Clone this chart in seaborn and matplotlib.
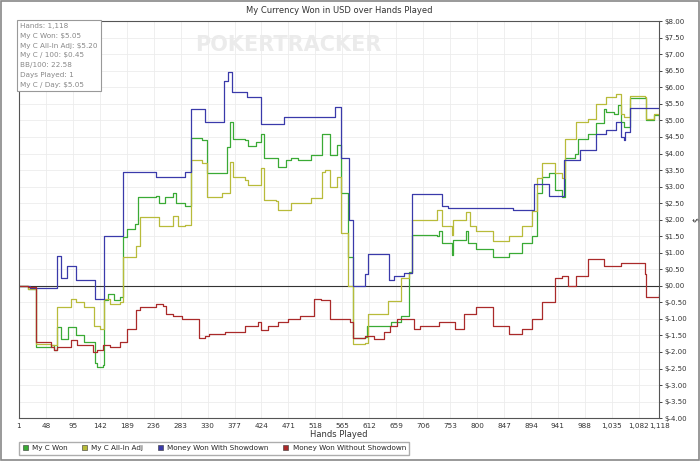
import matplotlib
matplotlib.use("Agg")
import matplotlib.pyplot as plt
import seaborn as sns
import pandas as pd
from matplotlib.patches import Rectangle

sns.set_style("white")
plt.rcParams['font.family'] = ['DejaVu Sans']

won_hands = [1, 17, 31, 57, 63, 67, 74, 86, 100, 114, 129, 133, 137, 148, 150, 157, 166, 177, 182, 189, 203, 209, 240, 246, 255, 269, 275, 291, 301, 321, 329, 355, 364, 369, 375, 395, 401, 415, 424, 429, 447, 452, 467, 475, 487, 510, 521, 530,
             535, 544, 555, 562, 575, 584, 604, 608, 647, 650, 667, 681, 687, 730, 733, 738, 756, 758, 781, 784, 799, 827, 856, 879, 896, 905, 913, 925, 936, 948, 953, 970, 976, 993, 1008, 1022, 1025, 1039, 1045, 1051, 1056, 1067, 1093, 1095, 1108, 1118]
won_vals = [0.0, -0.1, -1.85, -1.8, -1.95, -1.23, -1.6, -1.25, -1.5, -1.7, -1.7, -2.33, -2.45, -2.4, -0.42, -0.25, -0.42, -0.35, 1.48, 1.73, 1.87, 2.7, 2.73, 2.5, 2.7, 2.8, 2.5, 2.42, 4.47, 4.4, 3.4, 3.4, 4.2, 4.95, 4.45, 4.4, 4.23, 4.35, 4.6, 3.87, 3.85, 3.6, 3.8, 3.85, 3.8, 3.95, 3.97, 4.6,
            4.6, 3.95, 4.25, 2.8, 0.88, -1.57, -1.55, -1.2, -1.2, -1.1, -0.9, 0.42, 1.55, 1.5, 1.65, 1.3, 0.94, 1.4, 1.65, 1.3, 1.12, 0.88, 1.0, 1.3, 1.5, 2.8, 3.3, 3.4, 2.9, 2.7, 3.85, 4.0, 4.43, 4.6, 4.92, 5.35, 5.25, 5.2, 5.47, 4.95, 4.8, 5.67, 5.67, 5.0, 5.15, 5.05]

adj_hands = [1, 17, 31, 57, 67, 92, 100, 114, 132, 143, 150, 160, 177, 182, 206, 212, 240, 246, 269, 278, 291, 301, 321, 329, 355, 369, 375, 395, 401, 424, 429, 449, 452, 475, 510, 530,
             535, 544, 555, 562, 575, 584, 604, 610, 644, 667, 681, 687, 730, 738, 756, 758, 781, 787, 799, 827, 856, 879, 896, 905, 913, 936, 948, 953, 973, 993, 1008, 1025, 1042, 1051, 1056, 1067, 1093, 1095, 1108, 1118]
adj_vals = [0.0, -0.1, -1.75, -1.8, -0.63, -0.4, -0.5, -0.63, -1.2, -1.3, -0.4, -0.55, -0.5, 0.88, 1.2, 2.08, 2.08, 1.8, 2.1, 1.8, 1.85, 3.8, 3.7, 2.7, 2.8, 3.75, 3.28, 3.2, 3.06, 3.55, 2.6, 2.55, 2.3, 2.5, 2.65, 3.45,
            3.5, 3.0, 3.3, 1.6, 0.0, -1.75, -1.73, -0.85, -0.45, 0.25, 0.4, 2.0, 2.3, 1.8, 1.55, 2.0, 2.24, 1.8, 1.65, 1.35, 1.5, 1.8, 2.25, 3.25, 3.7, 3.4, 3.26, 4.45, 4.95, 5.05, 5.5, 5.7, 5.8, 5.2, 5.1, 5.75, 5.7, 5.05, 5.2, 5.15]

sd_hands = [1, 20, 67, 74, 85, 100, 133, 150, 182, 240, 291, 301, 326, 358, 365, 373, 398, 424, 464, 553, 562, 576, 584, 604, 609, 647, 656, 672, 687, 739, 750, 862, 899, 925, 951, 979, 1008, 1025, 1042, 1051, 1057, 1058, 1067, 1118]
sd_vals = [0.0, -0.06, 0.9, 0.25, 0.6, 0.18, -0.4, 1.5, 3.45, 3.3, 3.45, 5.35, 4.95, 6.2, 6.45, 5.85, 5.7, 4.9, 5.1, 5.4, 3.85, 2.0, 0.0, 0.35, 0.97, 0.18, 0.3, 0.4, 2.78, 2.4, 2.35, 2.3, 3.08, 2.72, 3.8, 4.1, 4.6, 4.7, 4.95, 4.5, 4.4, 4.65, 5.38, 5.38]

nsd_hands = [1, 17, 31, 57, 63, 67, 91, 103, 131, 137, 148, 160, 177, 189, 206, 212, 240, 252, 258, 269, 286, 315, 326, 332, 361, 395, 418, 424, 435, 452, 470, 492, 515, 527, 544, 578, 584, 604, 621, 638, 649, 660, 690, 700, 733, 761, 778, 799, 827, 856, 879, 896, 913, 936, 948, 959, 973, 993, 1022, 1051, 1093, 1095, 1118]
nsd_vals = [0.0, -0.05, -1.7, -1.85, -1.95, -1.85, -1.65, -1.8, -2.0, -1.95, -1.8, -1.85, -1.7, -1.3, -0.72, -0.65, -0.55, -0.62, -0.85, -0.9, -1.0, -1.57, -1.52, -1.45, -1.4, -1.2, -1.1, -1.35, -1.2, -1.1, -1.0, -0.9, -0.4, -0.42, -1.0, -1.1, -1.57, -1.52, -1.6, -1.4, -1.2, -1.0, -1.3, -1.2, -1.1, -1.3, -0.85, -0.65, -1.2, -1.45, -1.3, -1.0, -0.5, 0.24, 0.3, 0.0, 0.3, 0.8, 0.6, 0.7, 0.35, -0.35, -0.25]

series = [("My C Won", won_hands, won_vals, "#3aaa35"),
          ("My C All-In Adj", adj_hands, adj_vals, "#b8bb3a"),
          ("Money Won With Showdown", sd_hands, sd_vals, "#3a3aaa"),
          ("Money Won Without Showdown", nsd_hands, nsd_vals, "#aa2a2a")]

x_ticks = [1, 48, 95, 142, 189, 236, 283, 330, 377, 424, 471, 518, 565, 612, 659, 706, 753, 800, 847, 894, 941, 988, 1035, 1082, 1118]
y_ticks = [v / 2 for v in range(-8, 17)]
stats = ["Hands: 1,118", "My C Won: $5.05", "My C All-In Adj: $5.20", "My C / 100: $0.45",
         "BB/100: 22.58", "Days Played: 1", "My C / Day: $5.05"]

fig = plt.figure(figsize=(7, 4.61), dpi=100)
fig.patch.set_facecolor("white")
fig.patches.append(Rectangle((0.002, 0.002), 0.996, 0.996, transform=fig.transFigure,
                             fill=False, edgecolor="#888888", lw=1.2))
ax = fig.add_axes([0.027, 0.093, 0.915, 0.861])

for name, h, v, c in series:
    df = pd.DataFrame({"hand": h, "val": v})
    sns.lineplot(data=df, x="hand", y="val", ax=ax, color=c, lw=0.9,
                 drawstyle="steps-post", label=name, legend=False)

ax.axhline(0, color="#333333", lw=0.8, zorder=1)
ax.set_xlim(1, 1118)
ax.set_ylim(-4, 8)
ax.set_xticks(x_ticks)
ax.set_xticklabels([f"{t:,}" for t in x_ticks], fontsize=5.2, color="#333333")
ax.set_yticks(y_ticks)
ax.yaxis.tick_right()
ax.yaxis.set_label_position("right")
ax.set_yticklabels([f"${t:.2f}" for t in y_ticks], fontsize=5.0, color="#333333")
ax.tick_params(axis="both", length=2, pad=1.5, direction="out", width=0.6)
ax.grid(True, color="#ececec", lw=0.6)
ax.set_axisbelow(True)
ax.set_xlabel("Hands Played", fontsize=6, labelpad=1, color="#333333")
ax.set_ylabel("$", fontsize=5.5, rotation=90, color="#333333")
ax.yaxis.set_label_coords(1.05, 0.5)
for s in ax.spines.values():
    s.set_color("#555555"); s.set_linewidth(0.8)

ax.set_title("My Currency Won in USD over Hands Played", fontsize=6, color="#333333", pad=6)

ax.text(0.42, 0.94, "POKERTRACKER", transform=ax.transAxes, fontsize=15, fontweight="bold",
        color="#ebebeb", ha="center", va="center", zorder=0)

ax.text(0.002, 0.995, "\n".join(stats), transform=ax.transAxes, fontsize=5.2, color="#888888",
        va="top", ha="left", linespacing=1.75,
        bbox=dict(boxstyle="square,pad=0.5", fc="white", ec="#999999", lw=0.8))

handles = [Rectangle((0, 0), 1, 1, fc=c, ec="#333333", lw=0.4) for _, _, _, c in series]
fig.legend(handles, [s[0] for s in series], loc="lower left", bbox_to_anchor=(0.022, 0.005),
           ncol=4, fontsize=5.2, frameon=True, fancybox=False, edgecolor="#999999",
           handlelength=0.7, handleheight=0.7, columnspacing=2.0, handletextpad=0.6, borderpad=0.5)

fig.savefig("out.png", dpi=100)
